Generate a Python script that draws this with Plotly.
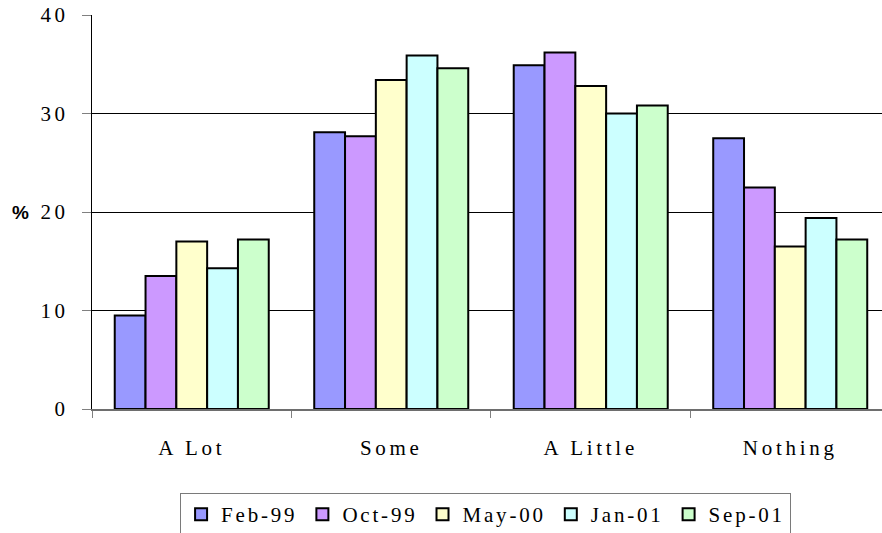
import plotly.graph_objects as go

# Survey answer categories and the share (%) of respondents per wave
categories = ["A Lot", "Some", "A Little", "Nothing"]
waves = ["Feb-99", "Oct-99", "May-00", "Jan-01", "Sep-01"]
feb_99 = [9.5, 28.1, 34.9, 27.5]
oct_99 = [13.5, 27.7, 36.2, 22.5]
may_00 = [17.0, 33.4, 32.8, 16.5]
jan_01 = [14.3, 35.9, 30.0, 19.4]
sep_01 = [17.2, 34.6, 30.8, 17.2]
y_ticks = [0, 10, 20, 30, 40]

series = [feb_99, oct_99, may_00, jan_01, sep_01]
colors = ["#9999FF", "#CC99FF", "#FFFFCC", "#CCFFFF", "#CCFFCC"]

SERIF = "Liberation Serif"

fig = go.Figure()
for name, vals, col in zip(waves, series, colors):
    fig.add_trace(go.Bar(
        x=categories, y=vals, name=name,
        marker=dict(color=col, line=dict(color="black", width=2)),
    ))

fig.update_layout(
    width=882, height=533,
    margin=dict(l=92, r=0, t=15, b=124, autoexpand=False),
    paper_bgcolor="white", plot_bgcolor="white",
    barmode="group", bargap=0.228, bargroupgap=0,
    font=dict(family=SERIF, size=21, color="black"),
    showlegend=True,
    legend=dict(
        orientation="h", x=0.1115, xanchor="left", y=-0.2132, yanchor="top",
        bordercolor="#7a7a7a", borderwidth=1, bgcolor="white",
        traceorder="normal",
    ),
    xaxis=dict(
        type="category", range=[-0.5, 3.46],
        showgrid=False, zeroline=False,
        showline=True, linecolor="#6e6e6e", linewidth=2,
        ticks="outside", tickson="boundaries", ticklen=7,
        tickcolor="#808080", tickwidth=1,
        ticklabelstandoff=19,
    ),
    yaxis=dict(
        range=[0, 40], tickvals=y_ticks,
        showgrid=True, gridcolor="black", gridwidth=1,
        zeroline=False,
        showline=True, linecolor="black", linewidth=1,
        ticks="outside", ticklen=9, tickcolor="#808080", tickwidth=1,
        ticklabelstandoff=9,
    ),
    annotations=[dict(
        text="<b>%</b>", xref="paper", yref="y", x=-0.0911, y=20,
        xanchor="center", yanchor="middle", showarrow=False,
        font=dict(family="Liberation Sans", size=19, color="black"),
    )],
)

# Widen the serif labels with letter spacing; nudging the font size makes
# plotly measure the spaced text afresh so the legend entries size to it.
post = """
var gd = document.getElementById('{plot_id}');
var st = document.createElement('style');
st.textContent = '.xtick text, .ytick text {letter-spacing: 3.7px;} .legendtext {letter-spacing: 2.8px;}';
document.head.appendChild(st);
Plotly.relayout(gd, {'font.size': 21.001});
"""

fig.write_html("out.html", post_script=post)
